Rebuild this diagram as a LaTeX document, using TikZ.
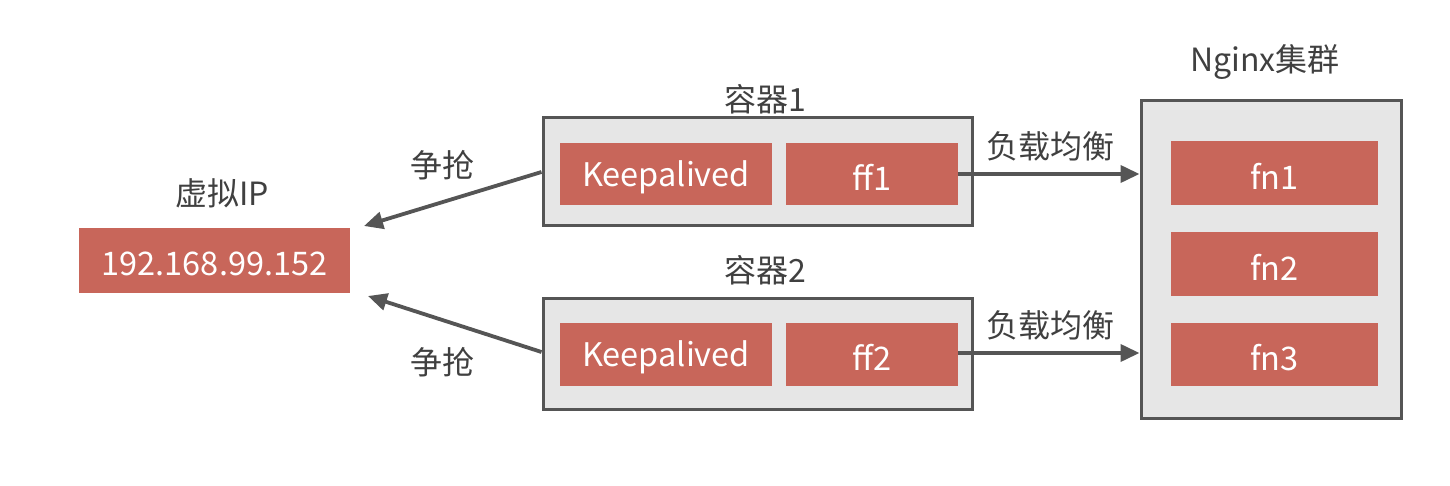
\documentclass[tikz,border=0pt]{standalone}
\usepackage{fontspec}
\setmainfont{Noto Sans CJK SC}
\usetikzlibrary{arrows.meta}
\definecolor{redbox}{HTML}{C8665A}
\definecolor{graybox}{HTML}{E6E6E6}
\definecolor{edge}{HTML}{555555}
\definecolor{txt}{HTML}{404040}
\newcommand\rb[1]{\raisebox{-3pt}[\height][\depth]{#1}}
\tikzset{
  outerbox/.style={draw=edge, line width=3pt, fill=graybox},
  redblock/.style={fill=redbox, text=white, font=\fontsize{32.5}{36}\selectfont, inner sep=0pt},
  lbl/.style={text=txt, font=\fontsize{32}{36}\selectfont, inner sep=0pt},
  conn/.style={draw=edge, line width=3.8pt, -{Triangle[length=19pt,width=17pt]}}
}
\begin{document}
\begin{tikzpicture}[x=1pt,y=-1pt]
\useasboundingbox (0,0) rectangle (1450,486);
% virtual IP
\node[redblock, minimum width=271pt, minimum height=65pt] (ip) at (214.5,260.5) {\rb{192.168.99.152}};
\node[lbl] (iplbl) at (222,193) {虚拟IP};
% container 1
\node[outerbox, minimum width=429pt, minimum height=108pt, inner sep=0pt] (c1) at (757.5,172) {};
\node[lbl] (c1lbl) at (765,99) {容器1};
\node[redblock, minimum width=212pt, minimum height=62pt] (k1) at (666,174) {\rb{Keepalived}};
\node[redblock, minimum width=172pt, minimum height=62pt] (f1) at (872,174) {\rb{ff1}};
% container 2
\node[outerbox, minimum width=429pt, minimum height=111pt, inner sep=0pt] (c2) at (757.5,353.5) {};
\node[lbl] (c2lbl) at (765,270) {容器2};
\node[redblock, minimum width=212pt, minimum height=63pt] (k2) at (666,354.5) {\rb{Keepalived}};
\node[redblock, minimum width=172pt, minimum height=63pt] (f2) at (872,354.5) {\rb{ff2}};
% nginx cluster
\node[outerbox, minimum width=260pt, minimum height=317pt, inner sep=0pt] (ng) at (1271,259.5) {};
\node[lbl] (nglbl) at (1265,62) {Nginx集群};
\node[redblock, minimum width=207pt, minimum height=64pt] (fn1) at (1274.5,173) {\rb{fn1}};
\node[redblock, minimum width=207pt, minimum height=64pt] (fn2) at (1274.5,264) {\rb{fn2}};
\node[redblock, minimum width=207pt, minimum height=63pt] (fn3) at (1274.5,354.5) {\rb{fn3}};
% arrows
\coordinate (ipa) at (364,226);
\coordinate (ipb) at (368,296);
\draw[conn] (c1.west |- 0,172) -- (ipa);
\draw[conn] (c2.west |- 0,352) -- (ipb);
\node[lbl] (z1) at (442,165) {争抢};
\node[lbl] (z2) at (442,362) {争抢};
\draw[conn] (f1.east) -- (ng.west |- f1.east);
\draw[conn] (f2.east |- 0,353) -- (ng.west |- 0,353);
\node[lbl] (lb1) at (1050,146) {负载均衡};
\node[lbl] (lb2) at (1050,325) {负载均衡};
\end{tikzpicture}
\end{document}
